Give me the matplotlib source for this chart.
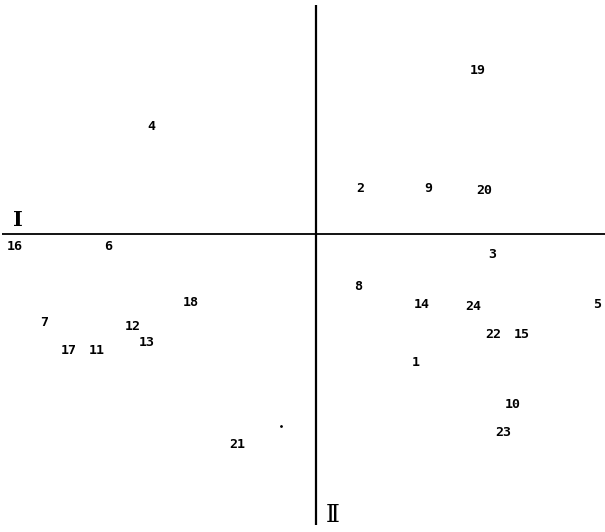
import matplotlib.pyplot as plt

# factor scores (axis I horizontal, axis II vertical)
labels = ["1", "2", "3", "4", "5", "6", "7", "8", "9", "10", "11", "12",
          "13", "14", "15", "16", "17", "18", "19", "20", "21", "22", "23", "24"]
f1 = [1.00, 0.44, 1.76, -1.65, 2.81, -2.08, -2.72, 0.42, 1.12, 1.97, -2.19, -1.83,
      -1.69, 1.06, 2.06, -3.01, -2.47, -1.25, 1.62, 1.68, -0.79, 1.77, 1.87, 1.57]
f2 = [-1.29, 0.45, -0.20, 1.08, -0.71, -0.13, -0.89, -0.53, 0.45, -1.71, -1.17, -0.92,
      -1.08, -0.71, -1.00, -0.13, -1.17, -0.69, 1.63, 0.43, -2.11, -1.01, -1.99, -0.72]

# stray speck in the scan
speck_x = [-0.35]
speck_y = [-1.92]

fig = plt.figure(figsize=(6.05, 5.32), dpi=100)
ax = fig.add_axes([0, 0, 1, 1])
ax.set_xlim(-3.16, 2.89)
ax.set_ylim(-2.98, 2.34)
ax.axis("off")

# axes of the plane
ax.plot([-3.14, 2.89], [0, 0], color="black", lw=1.3, solid_capstyle="butt")
ax.plot([0, 0], [2.29, -2.91], color="black", lw=1.6, solid_capstyle="butt")
ax.text(-2.98, 0.04, "I", family="DejaVu Serif", fontweight="bold", fontsize=15,
        ha="center", va="bottom")
ax.text(0.17, -2.81, "Ⅱ", family="DejaVu Serif", fontsize=17,
        ha="center", va="center")

for lab, x, y in zip(labels, f1, f2):
    ax.text(x, y, lab, family="DejaVu Sans Mono", fontweight="bold", fontsize=9.5,
            ha="center", va="center")

ax.plot(speck_x, speck_y, "o", color="black", ms=1)

fig.savefig("out.png", dpi=100)
